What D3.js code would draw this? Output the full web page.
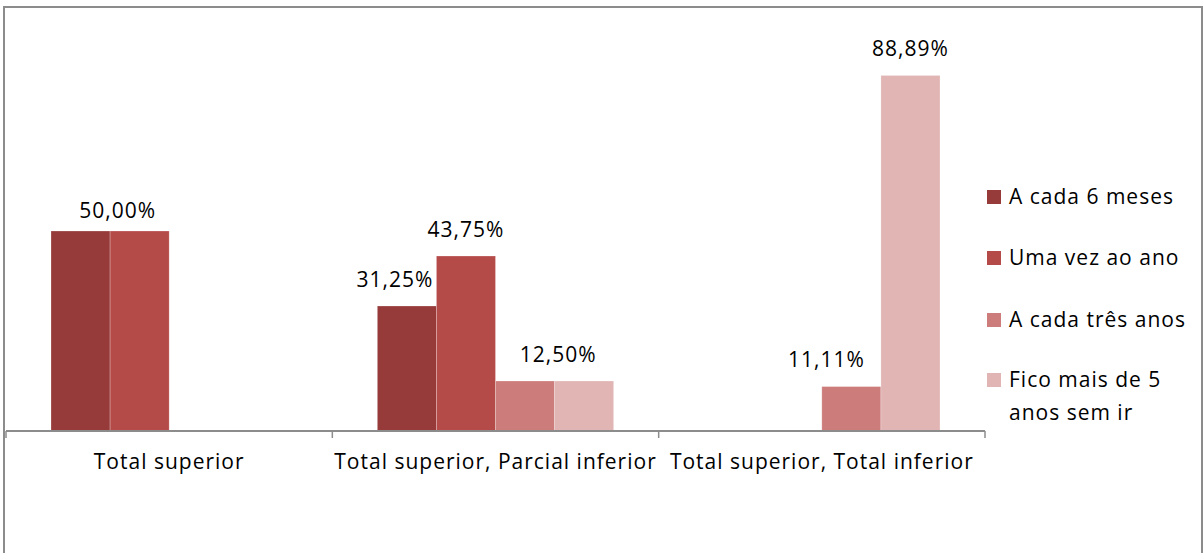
<!DOCTYPE html>
<html>
<head>
<meta charset="utf-8">
<script src="https://cdn.jsdelivr.net/npm/d3@7"></script>
<style>
  body { margin: 0; background: #fff; }
  svg { font-family: "Open Sans", "Noto Sans", sans-serif; }
  svg text { letter-spacing: 1px; }
</style>
</head>
<body>
<svg id="chart" width="1204" height="553"></svg>
<script>
  // data
  var categories = ["Total superior", "Total superior, Parcial inferior", "Total superior, Total inferior"];
  var seriesNames = ["A cada 6 meses", "Uma vez ao ano", "A cada três anos", "Fico mais de 5 anos sem ir"];
  var aCada6Meses   = [50.00, 31.25, 0];
  var umaVezAoAno   = [50.00, 43.75, 0];
  var aCadaTresAnos = [0, 12.50, 11.11];
  var ficoMaisDe5   = [0, 12.50, 88.89];
  var seriesValues = [aCada6Meses, umaVezAoAno, aCadaTresAnos, ficoMaisDe5];
  var colors = ["#963b3a", "#b54b49", "#cc7c7b", "#e0b5b4"];

  // which labels were shown in the original (one label per pair of equal bars)
  var shownLabels = [
    {s: 1, c: 0, dx: -22, dy: -13},
    {s: 0, c: 1, dx: -12, dy: -19},
    {s: 1, c: 1, dx: 0, dy: -19},
    {s: 3, c: 1, dx: -26, dy: -19},
    {s: 2, c: 2, dx: -25, dy: -20},
    {s: 3, c: 2, dx: 0, dy: -19}
  ];

  var fontSize = 21;
  var svg = d3.select("#chart");

  // outer frame
  svg.append("rect")
    .attr("x", 4).attr("y", 7)
    .attr("width", 1198).attr("height", 560)
    .attr("fill", "none")
    .attr("stroke", "#8c8c8c")
    .attr("stroke-width", 2);

  var plotLeft = 6, plotRight = 985, plotTop = 31, plotBottom = 431;

  var x0 = d3.scaleBand()
    .domain(d3.range(categories.length))
    .range([plotLeft, plotRight]);

  var gap = 45;
  var x1 = d3.scaleBand()
    .domain(d3.range(seriesNames.length))
    .range([gap, x0.bandwidth() - gap]);

  var y = d3.scaleLinear()
    .domain([0, 100])
    .range([plotBottom, plotTop]);

  var bars = [];
  seriesValues.forEach(function(vals, s) {
    vals.forEach(function(v, c) {
      if (v > 0) bars.push({s: s, c: c, v: v});
    });
  });

  svg.append("g").selectAll("rect")
    .data(bars)
    .enter().append("rect")
    .attr("x", function(d) { return x0(d.c) + x1(d.s); })
    .attr("y", function(d) { return y(d.v); })
    .attr("width", x1.bandwidth())
    .attr("height", function(d) { return y(0) - y(d.v); })
    .attr("fill", function(d) { return colors[d.s]; })
    .attr("stroke", "rgba(255,255,255,0.35)")
    .attr("stroke-width", 0.7);

  // axis
  var axis = svg.append("g")
    .attr("transform", "translate(0," + plotBottom + ")");
  axis.append("line")
    .attr("x1", plotLeft).attr("x2", plotRight)
    .attr("stroke", "#8c8c8c").attr("stroke-width", 2);
  axis.selectAll(".tick")
    .data(d3.range(categories.length + 1))
    .enter().append("line")
    .attr("x1", function(i) { return plotLeft + i * x0.bandwidth(); })
    .attr("x2", function(i) { return plotLeft + i * x0.bandwidth(); })
    .attr("y1", 0).attr("y2", 7)
    .attr("stroke", "#8c8c8c").attr("stroke-width", 1.5);

  axis.selectAll(".cat")
    .data(categories)
    .enter().append("text")
    .attr("x", function(d, i) { return x0(i) + x0.bandwidth() / 2; })
    .attr("y", 38)
    .attr("text-anchor", "middle")
    .attr("font-size", fontSize)
    .attr("fill", "#000")
    .text(function(d) { return d; });

  // data labels
  var fmt = function(v) { return v.toFixed(2).replace(".", ",") + "%"; };
  svg.append("g").selectAll("text")
    .data(shownLabels)
    .enter().append("text")
    .attr("x", function(d) { return x0(d.c) + x1(d.s) + x1.bandwidth() / 2 + d.dx; })
    .attr("y", function(d) { return y(seriesValues[d.s][d.c]) + d.dy; })
    .attr("text-anchor", "middle")
    .attr("font-size", fontSize)
    .attr("fill", "#000")
    .text(function(d) { return fmt(seriesValues[d.s][d.c]); });

  // legend
  var legend = svg.append("g").attr("transform", "translate(987,0)");
  var legendY = [197, 258, 320, 380];
  seriesNames.forEach(function(name, i) {
    legend.append("rect")
      .attr("x", 0).attr("y", legendY[i] - 7)
      .attr("width", 14).attr("height", 14)
      .attr("fill", colors[i]);
    var t = legend.append("text")
      .attr("x", 22).attr("y", legendY[i] + 7)
      .attr("font-size", fontSize)
      .attr("fill", "#000");
    if (i === 3) {
      t.append("tspan").attr("x", 22).text("Fico mais de 5");
      t.append("tspan").attr("x", 22).attr("dy", 33).text("anos sem ir");
    } else {
      t.text(name);
    }
  });
</script>
</body>
</html>
